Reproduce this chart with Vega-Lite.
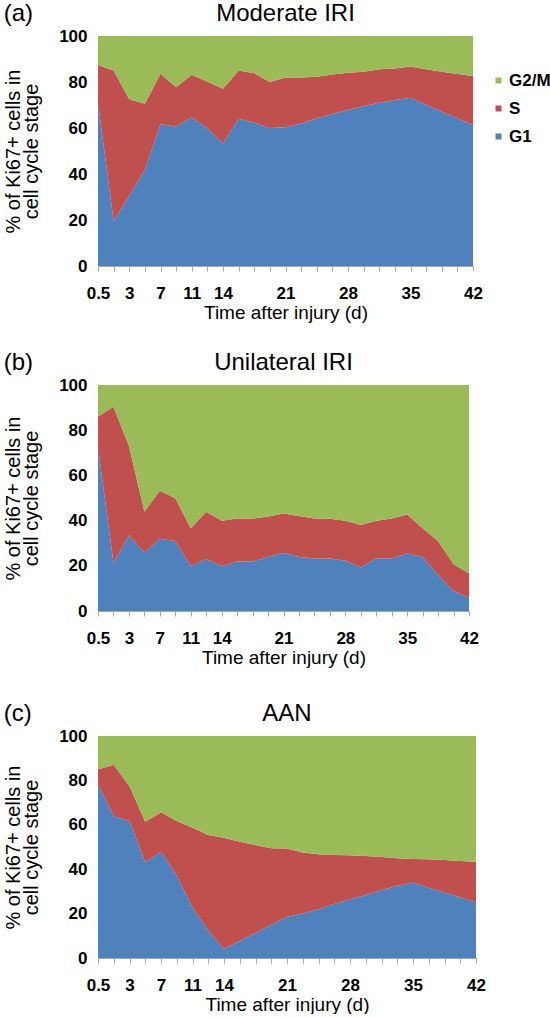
{
  "$schema": "https://vega.github.io/schema/vega-lite/v6.json",
  "padding": {"left": 3, "top": 2, "right": 0, "bottom": 0},
  "spacing": 29,
  "config": {
    "font": "Liberation Sans",
    "view": {"stroke": null},
    "title": {"font": "Liberation Sans", "fontSize": 24, "fontWeight": "normal", "color": "black"},
    "axis": {"labelFont": "Liberation Sans", "titleFont": "Liberation Sans", "labelColor": "black", "titleColor": "black", "grid": false}
  },
  "resolve": {"scale": {"color": "independent"}, "legend": {"color": "independent"}},
  "datasets": {
    "stages": [
      {"stage": "G1", "rank": 1},
      {"stage": "S", "rank": 2},
      {"stage": "G2/M", "rank": 3}
    ],
    "a": [
      {"day": "0.5", "G1": 70.9, "S": 16.5, "G2/M": 12.6},
      {"day": "2", "G1": 19.6, "S": 65.4, "G2/M": 15},
      {"day": "3", "G1": 30.5, "S": 42, "G2/M": 27.5},
      {"day": "5", "G1": 41.7, "S": 28.8, "G2/M": 29.5},
      {"day": "7", "G1": 61.6, "S": 22, "G2/M": 16.4},
      {"day": "9", "G1": 60.6, "S": 17.1, "G2/M": 22.3},
      {"day": "11", "G1": 64.6, "S": 18.6, "G2/M": 16.8},
      {"day": "12", "G1": 59.9, "S": 20.2, "G2/M": 19.9},
      {"day": "14", "G1": 53.3, "S": 23.8, "G2/M": 22.9},
      {"day": "16", "G1": 64, "S": 21, "G2/M": 15},
      {"day": "17", "G1": 62.3, "S": 21.5, "G2/M": 16.2},
      {"day": "19", "G1": 60, "S": 20, "G2/M": 20},
      {"day": "21", "G1": 60.3, "S": 21.7, "G2/M": 18},
      {"day": "23", "G1": 62, "S": 20, "G2/M": 18},
      {"day": "24", "G1": 64.2, "S": 18.1, "G2/M": 17.7},
      {"day": "26", "G1": 66.1, "S": 17.2, "G2/M": 16.7},
      {"day": "28", "G1": 67.8, "S": 16.2, "G2/M": 16},
      {"day": "30", "G1": 69.6, "S": 14.9, "G2/M": 15.5},
      {"day": "31", "G1": 71, "S": 14.5, "G2/M": 14.5},
      {"day": "33", "G1": 72.2, "S": 13.7, "G2/M": 14.1},
      {"day": "35", "G1": 73.2, "S": 13.5, "G2/M": 13.3},
      {"day": "37", "G1": 70, "S": 15.5, "G2/M": 14.5},
      {"day": "38", "G1": 67.1, "S": 17.4, "G2/M": 15.5},
      {"day": "40", "G1": 64.2, "S": 19.3, "G2/M": 16.5},
      {"day": "42", "G1": 61.3, "S": 21.3, "G2/M": 17.4}
    ],
    "b": [
      {"day": "0.5", "G1": 72.4, "S": 13.7, "G2/M": 13.9},
      {"day": "2", "G1": 21.4, "S": 69, "G2/M": 9.6},
      {"day": "3", "G1": 33.5, "S": 39.6, "G2/M": 26.9},
      {"day": "5", "G1": 25.8, "S": 18.2, "G2/M": 56},
      {"day": "7", "G1": 32, "S": 21.2, "G2/M": 46.8},
      {"day": "9", "G1": 31, "S": 18.9, "G2/M": 50.1},
      {"day": "11", "G1": 19.9, "S": 16.7, "G2/M": 63.4},
      {"day": "12", "G1": 22.9, "S": 21, "G2/M": 56.1},
      {"day": "14", "G1": 19.9, "S": 20, "G2/M": 60.1},
      {"day": "16", "G1": 21.9, "S": 19, "G2/M": 59.1},
      {"day": "17", "G1": 21.9, "S": 19, "G2/M": 59.1},
      {"day": "19", "G1": 23.9, "S": 17.9, "G2/M": 58.2},
      {"day": "21", "G1": 25.8, "S": 17.3, "G2/M": 56.9},
      {"day": "23", "G1": 23.9, "S": 18.1, "G2/M": 58},
      {"day": "24", "G1": 23.2, "S": 17.7, "G2/M": 59.1},
      {"day": "26", "G1": 23.2, "S": 17.6, "G2/M": 59.2},
      {"day": "28", "G1": 22.2, "S": 17.7, "G2/M": 60.1},
      {"day": "30", "G1": 19.2, "S": 18.9, "G2/M": 61.9},
      {"day": "31", "G1": 23.2, "S": 16.7, "G2/M": 60.1},
      {"day": "33", "G1": 23.2, "S": 17.7, "G2/M": 59.1},
      {"day": "35", "G1": 25.4, "S": 17.3, "G2/M": 57.3},
      {"day": "37", "G1": 23.9, "S": 12.7, "G2/M": 63.4},
      {"day": "38", "G1": 15.8, "S": 15.2, "G2/M": 69},
      {"day": "40", "G1": 8.9, "S": 11.8, "G2/M": 79.3},
      {"day": "42", "G1": 5.9, "S": 10.8, "G2/M": 83.3}
    ],
    "c": [
      {"day": "0.5", "G1": 78.1, "S": 6.8, "G2/M": 15.1},
      {"day": "2", "G1": 63.9, "S": 23.2, "G2/M": 12.9},
      {"day": "3", "G1": 61.7, "S": 15.7, "G2/M": 22.6},
      {"day": "5", "G1": 43, "S": 18.4, "G2/M": 38.6},
      {"day": "7", "G1": 47.9, "S": 17.8, "G2/M": 34.3},
      {"day": "9", "G1": 37, "S": 24.7, "G2/M": 38.3},
      {"day": "11", "G1": 22.8, "S": 35.9, "G2/M": 41.3},
      {"day": "12", "G1": 12.3, "S": 43.1, "G2/M": 44.6},
      {"day": "14", "G1": 4, "S": 50.2, "G2/M": 45.8},
      {"day": "16", "G1": 7.7, "S": 44.7, "G2/M": 47.6},
      {"day": "17", "G1": 11.3, "S": 39.6, "G2/M": 49.1},
      {"day": "19", "G1": 15, "S": 34.4, "G2/M": 50.6},
      {"day": "21", "G1": 18.6, "S": 30.7, "G2/M": 50.7},
      {"day": "23", "G1": 20, "S": 27.5, "G2/M": 52.5},
      {"day": "24", "G1": 22, "S": 24.7, "G2/M": 53.3},
      {"day": "26", "G1": 24.3, "S": 22.1, "G2/M": 53.6},
      {"day": "28", "G1": 26.5, "S": 19.8, "G2/M": 53.7},
      {"day": "30", "G1": 28.4, "S": 17.6, "G2/M": 54},
      {"day": "31", "G1": 30.5, "S": 15, "G2/M": 54.5},
      {"day": "33", "G1": 32.5, "S": 12.4, "G2/M": 55.1},
      {"day": "35", "G1": 34, "S": 10.6, "G2/M": 55.4},
      {"day": "37", "G1": 31.7, "S": 12.8, "G2/M": 55.5},
      {"day": "38", "G1": 29.5, "S": 14.7, "G2/M": 55.8},
      {"day": "40", "G1": 27.2, "S": 16.5, "G2/M": 56.3},
      {"day": "42", "G1": 25, "S": 18.3, "G2/M": 56.7}
    ]
  },
  "vconcat": [
    {
      "title": {"text": "(a)", "anchor": "start", "frame": "bounds", "offset": -24},
      "resolve": {"scale": {"color": "independent"}, "legend": {"color": "independent"}},
      "vconcat": [
        {
          "title": {"text": "Moderate IRI", "anchor": "middle", "frame": "group", "offset": 1},
          "width": 375,
          "height": 230,
          "data": {"name": "a"},
          "transform": [
            {"fold": ["G1", "S", "G2/M"], "as": ["stage", "pct"]},
            {"lookup": "stage", "from": {"data": {"name": "stages"}, "key": "stage", "fields": ["rank"]}}
          ],
          "mark": {"type": "area"},
          "encoding": {
            "x": {"field": "day", "type": "ordinal", "sort": null, "scale": {"padding": 0},
              "axis": {"labelExpr": "indexof(['0.5','3','7','11','14','21','28','35','42'], datum.value) >= 0 ? datum.value : ''", "labelAngle": 0, "labelOverlap": false, "labelFontSize": 17, "labelFontWeight": "bold", "labelPadding": 14, "tickSize": 5, "tickColor": "#A6A6A6", "domainColor": "#A6A6A6", "title": "Time after injury (d)", "titleFontSize": 19, "titleFontWeight": "normal", "titlePadding": 2}},
            "y": {"field": "pct", "type": "quantitative", "stack": "zero", "scale": {"domain": [0, 100], "nice": false},
              "axis": {"values": [0, 20, 40, 60, 80, 100], "ticks": false, "labelFontSize": 17, "labelFontWeight": "bold", "labelPadding": 11, "domainColor": "#A6A6A6", "title": ["% of Ki67+ cells in", "cell cycle stage"], "titleFontSize": 20, "titleFontWeight": "normal", "titleLineHeight": 18, "titlePadding": 17}},
            "order": {"field": "rank", "type": "quantitative", "sort": "ascending"},
            "color": {"field": "stage", "type": "nominal", "sort": ["G2/M", "S", "G1"],
              "scale": {"domain": ["G2/M", "S", "G1"], "range": ["#9BBB59", "#C0504D", "#4F81BD"]},
              "legend": {"title": null, "orient": "none", "legendX": 392, "legendY": 36, "padding": 0, "symbolType": "square", "symbolSize": 36, "symbolStrokeWidth": 0, "labelFontSize": 17, "labelFontWeight": "bold", "labelColor": "black", "labelOffset": 2, "rowPadding": 10, "labelFont": "Liberation Sans"}}
          }
        }
      ]
    },
    {
      "spacing": 35,
      "resolve": {"scale": {"color": "independent"}, "legend": {"color": "independent"}},
      "vconcat": [
        {
          "title": {"text": "(b)", "anchor": "start", "frame": "bounds", "offset": -24},
          "resolve": {"scale": {"color": "independent"}, "legend": {"color": "independent"}},
          "vconcat": [
            {
              "title": {"text": "Unilateral IRI", "anchor": "middle", "frame": "group", "offset": 1},
              "width": 371,
              "height": 226,
              "data": {"name": "b"},
              "transform": [
                {"fold": ["G1", "S", "G2/M"], "as": ["stage", "pct"]},
                {"lookup": "stage", "from": {"data": {"name": "stages"}, "key": "stage", "fields": ["rank"]}}
              ],
              "mark": {"type": "area"},
              "encoding": {
                "x": {"field": "day", "type": "ordinal", "sort": null, "scale": {"padding": 0},
                  "axis": {"labelExpr": "indexof(['0.5','3','7','11','14','21','28','35','42'], datum.value) >= 0 ? datum.value : ''", "labelAngle": 0, "labelOverlap": false, "labelFontSize": 17, "labelFontWeight": "bold", "labelPadding": 14, "tickSize": 5, "tickColor": "#A6A6A6", "domainColor": "#A6A6A6", "title": "Time after injury (d)", "titleFontSize": 19, "titleFontWeight": "normal", "titlePadding": 2}},
                "y": {"field": "pct", "type": "quantitative", "stack": "zero", "scale": {"domain": [0, 100], "nice": false},
                  "axis": {"values": [0, 20, 40, 60, 80, 100], "ticks": false, "labelFontSize": 17, "labelFontWeight": "bold", "labelPadding": 11, "domainColor": "#A6A6A6", "title": ["% of Ki67+ cells in", "cell cycle stage"], "titleFontSize": 20, "titleFontWeight": "normal", "titleLineHeight": 18, "titlePadding": 17}},
                "order": {"field": "rank", "type": "quantitative", "sort": "ascending"},
                "color": {"field": "stage", "type": "nominal", "sort": ["G2/M", "S", "G1"],
                  "scale": {"domain": ["G2/M", "S", "G1"], "range": ["#9BBB59", "#C0504D", "#4F81BD"]},
                  "legend": null}
              }
            }
          ]
        },
        {
          "title": {"text": "(c)", "anchor": "start", "frame": "bounds", "offset": -24},
          "resolve": {"scale": {"color": "independent"}, "legend": {"color": "independent"}},
          "vconcat": [
            {
              "title": {"text": "AAN", "anchor": "middle", "frame": "group", "offset": 1},
              "width": 378,
              "height": 222,
              "data": {"name": "c"},
              "transform": [
                {"fold": ["G1", "S", "G2/M"], "as": ["stage", "pct"]},
                {"lookup": "stage", "from": {"data": {"name": "stages"}, "key": "stage", "fields": ["rank"]}}
              ],
              "mark": {"type": "area"},
              "encoding": {
                "x": {"field": "day", "type": "ordinal", "sort": null, "scale": {"padding": 0},
                  "axis": {"labelExpr": "indexof(['0.5','3','7','11','14','21','28','35','42'], datum.value) >= 0 ? datum.value : ''", "labelAngle": 0, "labelOverlap": false, "labelFontSize": 17, "labelFontWeight": "bold", "labelPadding": 14, "tickSize": 5, "tickColor": "#A6A6A6", "domainColor": "#A6A6A6", "title": "Time after injury (d)", "titleFontSize": 19, "titleFontWeight": "normal", "titlePadding": 2}},
                "y": {"field": "pct", "type": "quantitative", "stack": "zero", "scale": {"domain": [0, 100], "nice": false},
                  "axis": {"values": [0, 20, 40, 60, 80, 100], "ticks": false, "labelFontSize": 17, "labelFontWeight": "bold", "labelPadding": 11, "domainColor": "#A6A6A6", "title": ["% of Ki67+ cells in", "cell cycle stage"], "titleFontSize": 20, "titleFontWeight": "normal", "titleLineHeight": 18, "titlePadding": 17}},
                "order": {"field": "rank", "type": "quantitative", "sort": "ascending"},
                "color": {"field": "stage", "type": "nominal", "sort": ["G2/M", "S", "G1"],
                  "scale": {"domain": ["G2/M", "S", "G1"], "range": ["#9BBB59", "#C0504D", "#4F81BD"]},
                  "legend": null}
              }
            }
          ]
        }
      ]
    }
  ]
}
